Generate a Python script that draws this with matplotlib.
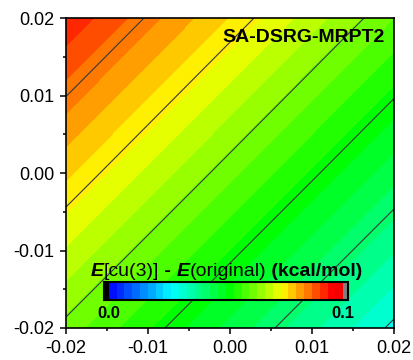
import numpy as np
import matplotlib
matplotlib.use('Agg')
import matplotlib.pyplot as plt
from matplotlib.colors import LinearSegmentedColormap

plt.rcParams['font.family'] = ['Liberation Sans', 'DejaVu Sans']

# grid (energy difference, kcal/mol)
x = [-0.02, 0.0, 0.02]
y = [-0.02, 0.0, 0.02]
z = [[0.0619, 0.0455, 0.0291],   # y = -0.02
     [0.0774, 0.0610, 0.0446],   # y =  0.00
     [0.0928, 0.0764, 0.0600]]   # y =  0.02
fill_levels = np.linspace(0.0, 0.1, 31)
line_levels = [0.030, 0.041, 0.052, 0.063, 0.074, 0.085]
ticks = [-0.02, -0.01, 0.0, 0.01, 0.02]
minor_ticks = [-0.015, -0.005, 0.005, 0.015]
cbar_ticks = [0.0, 0.1]

cmap = LinearSegmentedColormap.from_list('origin_rainbow', [
    (0.0, '#0000ff'), (0.27, '#00ffff'), (0.52, '#00ff00'),
    (0.74, '#ffff00'), (0.95, '#ff0000'), (1.0, '#f00000')])
cmap.set_under('black')
cmap.set_over('#808080')

fig = plt.figure(figsize=(4.14, 3.6), dpi=100)
ax = fig.add_axes([0.1594, 0.0889, 0.7923, 0.861])

X, Y = np.meshgrid(x, y)
Z = np.array(z)
cf = ax.contourf(X, Y, Z, levels=fill_levels, cmap=cmap, extend='both')
ax.contour(X, Y, Z, levels=line_levels, colors='#3a3a3a', linewidths=0.8)

ax.set_xlim(-0.02, 0.02)
ax.set_ylim(-0.02, 0.02)
ax.set_xticks(ticks)
ax.set_yticks(ticks)
ax.set_xticks(minor_ticks, minor=True)
ax.set_yticks(minor_ticks, minor=True)
ax.set_xticklabels(['%.2f' % t for t in ticks])
ax.set_yticklabels(['%.2f' % t for t in ticks])
ax.tick_params(which='major', direction='out', length=4.5, width=1.1,
               labelsize=13, pad=4)
ax.tick_params(which='minor', direction='out', length=2.5, width=1.1)
for s in ax.spines.values():
    s.set_linewidth(1.2)

ax.text(0.9726, 0.922, 'SA-DSRG-MRPT2', transform=ax.transAxes,
        ha='right', va='baseline', fontsize=14, fontweight='bold')

# inset colour bar
cax = fig.add_axes([0.2512, 0.1667, 0.589, 0.05])
cb = fig.colorbar(cf, cax=cax, orientation='horizontal', extend='both',
                  extendrect=True, extendfrac=0.02, ticks=cbar_ticks)
cb.outline.set_linewidth(1.5)
cb.set_ticklabels(['0.0', '0.1'])
cax.tick_params(length=0, pad=4, labelsize=12)
for lab in cax.get_xticklabels():
    lab.set_fontweight('bold')

# colour bar title, made of pieces in mixed styles
pieces = [('E', 'bold', 'italic'), ('[cu(3)]', 'normal', 'normal'),
          (' - ', 'bold', 'normal'), ('E', 'bold', 'italic'),
          ('(original)', 'normal', 'normal'), (' (kcal/mol)', 'bold', 'normal')]
prev = None
for txt, w, st in pieces:
    if prev is None:
        prev = fig.text(0.2198, 0.2333, txt, fontsize=14, fontweight=w,
                        fontstyle=st, va='baseline', ha='left')
    else:
        prev = ax.annotate(txt, xy=(1, 0), xycoords=prev, fontsize=14,
                           fontweight=w, fontstyle=st, va='bottom', ha='left',
                           annotation_clip=False)

fig.savefig('out.png', dpi=100)
